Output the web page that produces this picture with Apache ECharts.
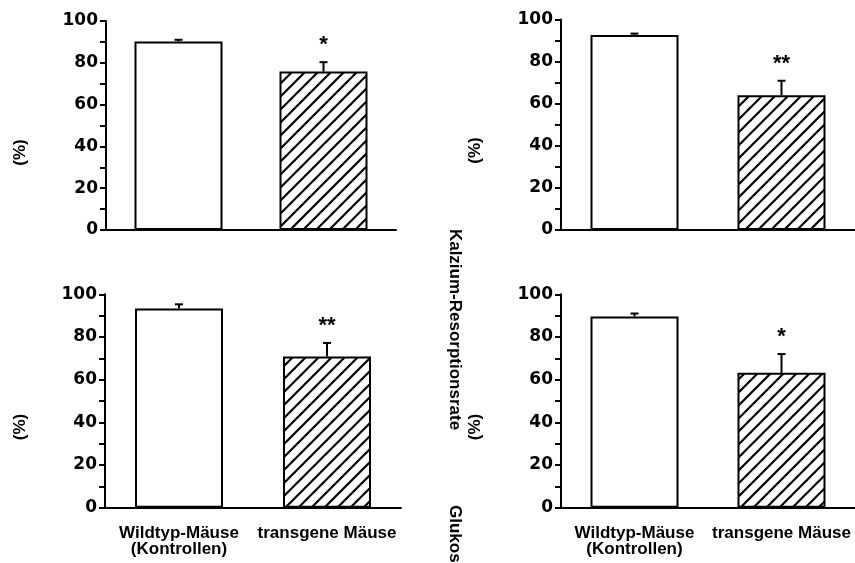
<!DOCTYPE html>
<html>
<head>
<meta charset="utf-8">
<script src="https://cdn.jsdelivr.net/npm/echarts@6/dist/echarts.min.js"></script>
<style>
html,body{margin:0;padding:0;background:#fff;}
#chart{width:855px;height:563px;}
</style>
</head>
<body>
<div id="chart"></div>
<script>
// ---- data ----
const categories = ['Wildtyp-Mäuse\n(Kontrollen)', 'transgene Mäuse'];
const yTicks = [0, 20, 40, 60, 80, 100];
const panelMeans = [
  [90.2, 75.8],   // top-left
  [92.6, 64.0],   // top-right
  [93.4, 70.8],   // bottom-left
  [89.6, 63.2]    // bottom-right
];
const panelErrors = [
  [0.8, 4.5],
  [0.7, 6.9],
  [1.9, 6.4],
  [1.4, 8.8]
];
const panelStars = [
  ['', '*'],
  ['', '**'],
  ['', '**'],
  ['', '*']
];
const yAxisUnit = '(%)';
const middleTitle = 'Kalzium-Resorptionsrate';
const middleTitle2 = 'Glukos';

// ---- styles / layout ----
const FONT = '"Liberation Sans", Arial, sans-serif';
const TICKFONT = '"DejaVu Sans", "Liberation Sans", Arial, sans-serif';
const grids = [
  {left: 106, top: 21, width: 290, height: 209},
  {left: 561, top: 19.5, width: 294, height: 210.5},
  {left: 105, top: 294.3, width: 296, height: 213.4},
  {left: 561, top: 294.3, width: 296, height: 213.4}
];
const showCatLabels = [false, false, true, true];

function hatchPattern() {
  const s = 13;
  const c = document.createElement('canvas');
  c.width = s; c.height = s;
  const g = c.getContext('2d');
  g.fillStyle = '#fff';
  g.fillRect(0, 0, s, s);
  g.strokeStyle = '#000';
  g.lineWidth = 2.2;
  g.lineCap = 'square';
  g.beginPath();
  g.moveTo(-2, s + 2); g.lineTo(s + 2, -2);
  g.moveTo(-2, 2); g.lineTo(2, -2);
  g.moveTo(s - 2, s + 2); g.lineTo(s + 2, s - 2);
  g.stroke();
  return c;
}
const pattern = {image: hatchPattern(), repeat: 'repeat'};

const chart = echarts.init(document.getElementById('chart'), null, {renderer: 'canvas'});

const xAxes = [], yAxes = [], series = [];
grids.forEach((gr, i) => {
  xAxes.push({
    type: 'category', gridIndex: i, data: categories,
    axisLine: {lineStyle: {color: '#000', width: 2}},
    axisTick: {show: false},
    axisLabel: {
      show: showCatLabels[i], color: '#000', fontWeight: 'bold',
      fontFamily: FONT, fontSize: 17, lineHeight: 16, margin: 18, interval: 0
    }
  });
  yAxes.push({
    type: 'value', gridIndex: i, min: 0, max: 100, interval: 10,
    axisLine: {show: true, lineStyle: {color: '#000', width: 2}},
    axisTick: {show: true, inside: false, length: 6, lineStyle: {color: '#000', width: 2}},
    splitLine: {show: false},
    axisLabel: {
      color: '#000', fontWeight: 'bold', fontFamily: TICKFONT, fontSize: 17, margin: 8,
      formatter: v => (yTicks.indexOf(v) >= 0 ? String(v) : '')
    }
  });
  series.push({
    type: 'bar', xAxisIndex: i, yAxisIndex: i, barWidth: 88,
    data: panelMeans[i].map((v, j) => ({
      value: v,
      itemStyle: {
        color: j === 0 ? '#fff' : pattern,
        borderColor: '#000', borderWidth: 2
      }
    })),
    animation: false, silent: true
  });
  series.push({
    type: 'custom', xAxisIndex: i, yAxisIndex: i,
    data: panelMeans[i].map((v, j) => [j, v, panelErrors[i][j]]),
    renderItem: function (params, api) {
      const x = api.value(0), y = api.value(1), e = api.value(2);
      const star = panelStars[i][params.dataIndex];
      const p0 = api.coord([x, y]);
      const p1 = api.coord([x, y + e]);
      const children = [
        {type: 'line', shape: {x1: p0[0], y1: p0[1], x2: p1[0], y2: p1[1]},
         style: {stroke: '#000', lineWidth: 2}},
        {type: 'line', shape: {x1: p1[0] - 4, y1: p1[1], x2: p1[0] + 4, y2: p1[1]},
         style: {stroke: '#000', lineWidth: 2}}
      ];
      if (star) {
        children.push({type: 'text', x: p1[0], y: p1[1] - 6,
          style: {text: star, fill: '#000', font: 'bold 22px ' + FONT,
                  textAlign: 'center', textVerticalAlign: 'bottom'}});
      }
      return {type: 'group', children: children};
    },
    animation: false, silent: true, z: 3
  });
});

const labelFont = 'bold 17px ' + FONT;
const graphics = [
  {type: 'text', x: 20, y: 152.5, rotation: Math.PI / 2,
   style: {text: yAxisUnit, font: labelFont, fill: '#000', textAlign: 'center', textVerticalAlign: 'middle'}},
  {type: 'text', x: 20, y: 427, rotation: Math.PI / 2,
   style: {text: yAxisUnit, font: labelFont, fill: '#000', textAlign: 'center', textVerticalAlign: 'middle'}},
  {type: 'text', x: 475, y: 150.5, rotation: Math.PI / 2,
   style: {text: yAxisUnit, font: labelFont, fill: '#000', textAlign: 'center', textVerticalAlign: 'middle'}},
  {type: 'text', x: 475, y: 427, rotation: Math.PI / 2,
   style: {text: yAxisUnit, font: labelFont, fill: '#000', textAlign: 'center', textVerticalAlign: 'middle'}},
  {type: 'text', x: 455, y: 329.5, rotation: -Math.PI / 2,
   style: {text: middleTitle, font: labelFont, fill: '#000', textAlign: 'center', textVerticalAlign: 'middle'}},
  {type: 'text', x: 455, y: 505, rotation: -Math.PI / 2,
   style: {text: middleTitle2, font: labelFont, fill: '#000', textAlign: 'left', textVerticalAlign: 'middle'}}
];

chart.setOption({
  animation: false,
  backgroundColor: '#fff',
  grid: grids.map(g => Object.assign({containLabel: false}, g)),
  xAxis: xAxes,
  yAxis: yAxes,
  series: series,
  graphic: graphics
});
</script>
</body>
</html>
